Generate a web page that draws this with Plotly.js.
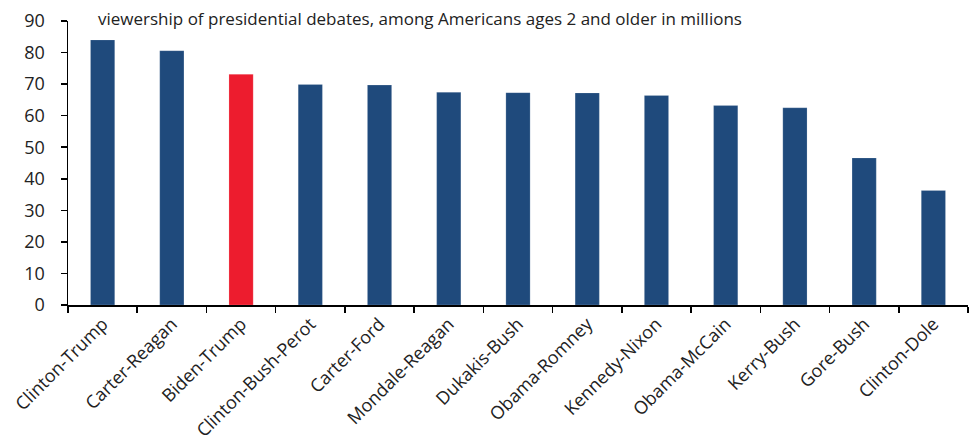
<!DOCTYPE html>
<html><head><meta charset="utf-8">
<script src="https://cdn.plot.ly/plotly-3.0.1.min.js"></script>
<style>body{margin:0;padding:0;background:#fff}#chart{width:977px;height:440px}</style>
</head><body><div id="chart"></div>
<script>
const categories = ["Clinton-Trump","Carter-Reagan","Biden-Trump","Clinton-Bush-Perot","Carter-Ford","Mondale-Reagan","Dukakis-Bush","Obama-Romney","Kennedy-Nixon","Obama-McCain","Kerry-Bush","Gore-Bush","Clinton-Dole"];
const viewers = [84.0, 80.6, 73.1, 69.9, 69.7, 67.4, 67.3, 67.2, 66.4, 63.2, 62.5, 46.6, 36.3];
const highlight = "Biden-Trump";
const yTicks = [0,10,20,30,40,50,60,70,80,90];
const subtitle = "viewership of presidential debates, among Americans ages 2 and older in millions";

const colors = categories.map(c => c === highlight ? "#ED1C2E" : "#1F4A7C");
const font = "Open Sans, sans-serif";

Plotly.newPlot("chart", [{
  type: "bar", x: categories, y: viewers,
  marker: {color: colors, line: {color: "rgba(255,255,255,0.35)", width: 0.5}},
  hoverinfo: "x+y"
}], {
  width: 977, height: 440,
  margin: {l: 68, r: 9, t: 21, b: 135},
  paper_bgcolor: "#fff", plot_bgcolor: "#fff",
  bargap: 0.65,
  showlegend: false,
  font: {family: font, color: "#222", size: 18},
  xaxis: {
    type: "category", tickangle: -45, tickson: "boundaries",
    ticks: "outside", ticklen: 6, tickcolor: "#000", tickwidth: 1.5,
    showline: true, linecolor: "#000", linewidth: 1.5,
    showgrid: false, tickfont: {size: 18, family: font, color: "#222"}
  },
  yaxis: {
    range: [0, 90], tickvals: yTicks, ticks: "outside", ticklen: 6, tickcolor: "#000", tickwidth: 1.5,
    showline: true, linecolor: "#000", linewidth: 1.5, showgrid: false, zeroline: false,
    tickfont: {size: 18, family: font, color: "#222"}, ticklabelstandoff: 12
  },
  annotations: [{
    text: subtitle, xref: "paper", yref: "paper", x: 0.031, y: 1.01, xanchor: "left", yanchor: "middle",
    showarrow: false, font: {size: 17, family: font, color: "#222"}
  }]
}, {displayModeBar: false, staticPlot: true});
</script></body></html>
